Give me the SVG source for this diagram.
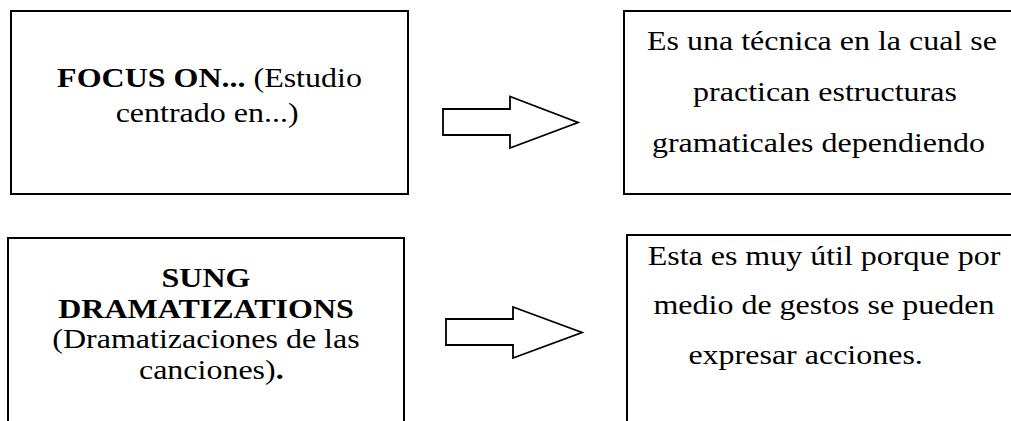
<svg xmlns="http://www.w3.org/2000/svg" width="1011" height="421" viewBox="0 0 1011 421">
<style>
.box{fill:#fff;stroke:#000;stroke-width:2}
.arrow{fill:#fff;stroke:#000;stroke-width:1.8;stroke-linejoin:miter}
text{font-family:"Liberation Serif","Times New Roman",serif;font-size:27px;fill:#000;text-anchor:middle}
.b{font-weight:bold}
</style>
<rect x="0" y="0" width="1011" height="421" fill="#fff"/>
<g id="focus-on">
<rect class="box" x="11" y="11" width="397" height="183"/>
<g transform="translate(209.5,0) scale(1.185,1)">
<text x="0" y="87"><tspan class="b">FOCUS ON...</tspan> (Estudio</text>
<text x="-2" y="122">centrado en...)</text>
</g>
</g>
<g id="focus-on-desc">
<rect class="box" x="624" y="11" width="400" height="183"/>
<g transform="translate(822,0) scale(1.185,1)">
<text x="0" y="50">Es una técnica en la cual se</text>
<text x="2.5" y="101">practican estructuras</text>
<text x="-3" y="152">gramaticales dependiendo</text>
</g>
</g>
<g id="sung-dramatizations">
<rect class="box" x="8" y="238" width="396" height="200"/>
<g transform="translate(206,0) scale(1.185,1)">
<text x="0" y="287" class="b">SUNG</text>
<text x="0" y="318" class="b">DRAMATIZATIONS</text>
<text x="0" y="348">(Dramatizaciones de las</text>
<text x="4.5" y="379">canciones)<tspan class="b">.</tspan></text>
</g>
</g>
<g id="sung-desc">
<rect class="box" x="627" y="235" width="400" height="200"/>
<g transform="translate(824,0) scale(1.185,1)">
<text x="0" y="265">Esta es muy útil porque por</text>
<text x="0" y="314">medio de gestos se pueden</text>
<text x="-15.5" y="364">expresar acciones.</text>
</g>
</g>
<g id="connectors">
<polygon class="arrow" points="443,109 510,109 510,96.5 578,122.5 510,148 510,135 443,135"/>
<polygon class="arrow" points="446,319 513,319 513,307 582,332.5 513,358 513,345 446,345"/>
</g>
</svg>
